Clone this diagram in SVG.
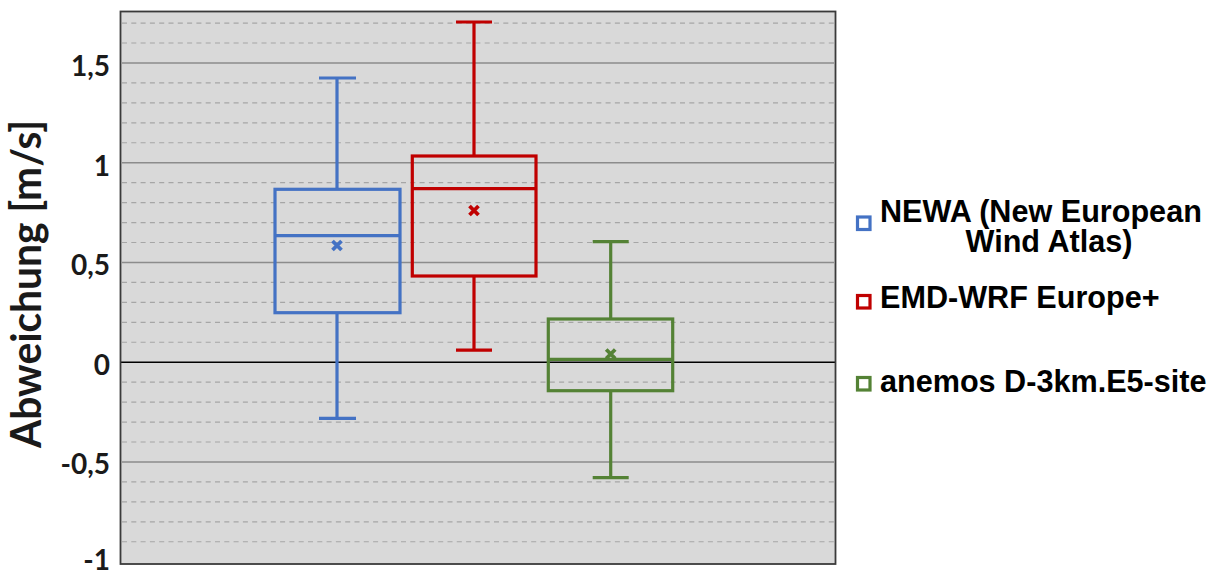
<svg xmlns="http://www.w3.org/2000/svg" width="1227" height="574" viewBox="0 0 1227 574">
<style>
.minor{stroke:#A6A6A6;stroke-width:1.2;stroke-dasharray:5 4.3;fill:none}
.major{stroke:#8C8C8C;stroke-width:1.4;fill:none}
.zero{stroke:#000;stroke-width:1.6;fill:none}
.tick{font-family:Lato,"Open Sans",sans-serif;font-weight:bold;font-size:28px;fill:#1A1A1A;text-anchor:end}
.title{font-family:Lato,"Open Sans",sans-serif;font-weight:bold;font-size:42px;fill:#1A1A1A;text-anchor:middle}
.leg{font-family:"Liberation Sans",Arial,sans-serif;font-weight:bold;font-size:30.6px;fill:#000}
.box{fill:none;stroke-width:3.2}
.mean{fill:none;stroke-width:3.8}
.blue{stroke:#4472C4}
.red{stroke:#C00000}
.green{stroke:#548235}
</style>
<rect width="1227" height="574" fill="#fff"/>
<g id="plot-area">
<rect x="120.5" y="11.5" width="715" height="552.5" fill="#D9D9D9"/>
<path class="minor" d="M122 23.05H834M122 43H834M122 82.9H834M122 102.85H834M122 122.8H834M122 142.75H834M122 182.65H834M122 202.6H834M122 222.55H834M122 242.5H834M122 282.4H834M122 302.35H834M122 322.3H834M122 342.25H834M122 382.15H834M122 402.1H834M122 422.05H834M122 442H834M122 481.9H834M122 501.85H834M122 521.8H834M122 541.75H834"/>
<path class="major" d="M122 62.95H834M122 162.7H834M122 262.45H834M122 461.95H834"/>
<path class="zero" d="M121 362.2H835"/>
<rect x="120.5" y="11.5" width="715" height="552.5" fill="none" stroke="#3A3A3A" stroke-width="1.8"/>
</g>
<g id="y-axis">
<text class="tick" x="110" y="76">1,5</text>
<text class="tick" x="110" y="176">1</text>
<text class="tick" x="110" y="275">0,5</text>
<text class="tick" x="110" y="375">0</text>
<text class="tick" x="110" y="474">-0,5</text>
<text class="tick" x="110" y="570">-1</text>
<text class="title" transform="translate(41 284) rotate(-90)" textLength="328" lengthAdjust="spacingAndGlyphs">Abweichung [m/s]</text>
</g>
<g id="connectors">
<path class="box blue" d="M337 78V189.3M337 312.7V418.3M319 78H356M319 418.3H356"/>
<path class="box red" d="M474 22V156M474 276V350.2M456 22H492M456 350.2H492"/>
<path class="box green" d="M610.7 241.7V319M610.7 390.7V477.7M592.7 241.7H628.7M592.7 477.7H628.7"/>
</g>
<g id="newa-box">
<rect class="box blue" x="275" y="189.3" width="125" height="123.4"/>
<path class="box blue" d="M275 235.7H400"/>
<path class="mean blue" d="M332.5 241L341.5 250M341.5 241L332.5 250"/>
</g>
<g id="emd-box">
<rect class="box red" x="412.3" y="156" width="123.7" height="120"/>
<path class="box red" d="M412.3 188.7H536"/>
<path class="mean red" d="M469.5 206L478.5 215M478.5 206L469.5 215"/>
</g>
<g id="anemos-box">
<rect class="box green" x="548.3" y="319" width="124.4" height="71.7"/>
<path class="box green" d="M548.3 359.3H672.7"/>
<path class="mean green" d="M606.2 349.5L615.2 358.5M615.2 349.5L606.2 358.5"/>
</g>
<g id="legend-newa">
<rect class="box blue" x="857.5" y="217" width="12.5" height="12.5" stroke-width="2.8"/>
<text class="leg" x="880" y="221.7">NEWA (New European</text>
<text class="leg" x="1049" y="251.7" text-anchor="middle">Wind Atlas)</text>
</g>
<g id="legend-emd">
<rect class="box red" x="857.5" y="295.5" width="12.5" height="12.5" stroke-width="2.8"/>
<text class="leg" x="880" y="308.3">EMD-WRF Europe+</text>
</g>
<g id="legend-anemos">
<rect class="box green" x="857.5" y="377.5" width="12.5" height="12.5" stroke-width="2.8"/>
<text class="leg" x="880" y="391.7">anemos D-3km.E5-site</text>
</g>
</svg>
